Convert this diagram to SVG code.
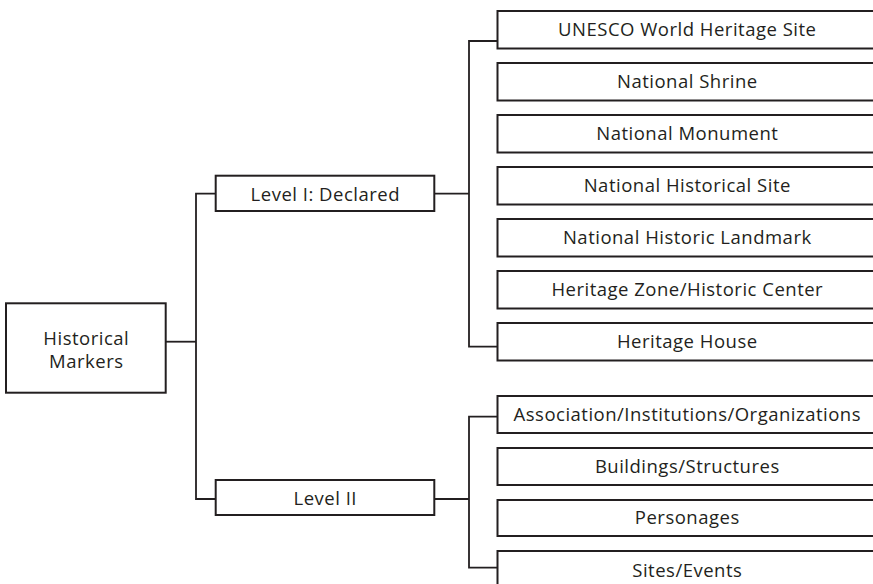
<svg xmlns="http://www.w3.org/2000/svg" width="873" height="584" viewBox="0 0 873 584">
<style>
.box{fill:#fff;stroke:#231f20;stroke-width:2}
.lbl{font-family:"Open Sans","Noto Sans",sans-serif;font-size:18.5px;letter-spacing:0.5px;fill:#231f20;text-anchor:middle}
.con{fill:none;stroke:#231f20;stroke-width:1.8}
</style>
<rect width="873" height="584" fill="#fff"/>
<g id="connectors">
<path class="con" d="M166 341.7 H196"/>
<path class="con" d="M215.7 193.7 H196 V499 H215.7"/>
<path class="con" d="M434.3 193.7 H469"/>
<path class="con" d="M497.5 41 H469 V346.7 H497.5"/>
<path class="con" d="M434.3 499 H469"/>
<path class="con" d="M497.5 416.7 H469 V567.7 H497.5"/>
</g>
<g id="root">
<rect class="box" x="6" y="303.3" width="159.7" height="89.4"/>
<text class="lbl" x="86.3" y="344.5">Historical</text>
<text class="lbl" x="86.3" y="368">Markers</text>
</g>
<g id="level1">
<rect class="box" x="215.7" y="175.7" width="218.6" height="35.3"/>
<text class="lbl" x="325.3" y="200.8">Level I: Declared</text>
</g>
<g id="level2">
<rect class="box" x="215.7" y="480" width="218.6" height="35"/>
<text class="lbl" x="325.3" y="504.8">Level II</text>
</g>
<g id="unesco"><rect class="box" x="497.5" y="11" width="380" height="37.5"/><text class="lbl" x="687.3" y="36.3">UNESCO World Heritage Site</text></g>
<g id="shrine"><rect class="box" x="497.5" y="63" width="380" height="37.5"/><text class="lbl" x="687.3" y="88.3">National Shrine</text></g>
<g id="monument"><rect class="box" x="497.5" y="115" width="380" height="37.5"/><text class="lbl" x="687.3" y="140.3">National Monument</text></g>
<g id="histsite"><rect class="box" x="497.5" y="167" width="380" height="37.5"/><text class="lbl" x="687.3" y="192.3">National Historical Site</text></g>
<g id="landmark"><rect class="box" x="497.5" y="219" width="380" height="37.5"/><text class="lbl" x="687.3" y="244.3">National Historic Landmark</text></g>
<g id="zone"><rect class="box" x="497.5" y="271" width="380" height="37.5"/><text class="lbl" x="687.3" y="296.3">Heritage Zone/Historic Center</text></g>
<g id="house"><rect class="box" x="497.5" y="323" width="380" height="37.5"/><text class="lbl" x="687.3" y="348.3">Heritage House</text></g>
<g id="assoc"><rect class="box" x="497.5" y="396" width="380" height="37"/><text class="lbl" x="687.3" y="420.8">Association/Institutions/Organizations</text></g>
<g id="buildings"><rect class="box" x="497.5" y="448" width="380" height="37"/><text class="lbl" x="687.3" y="472.8">Buildings/Structures</text></g>
<g id="personages"><rect class="box" x="497.5" y="500" width="380" height="36"/><text class="lbl" x="687.3" y="524.3">Personages</text></g>
<g id="sites"><rect class="box" x="497.5" y="551" width="380" height="40"/><text class="lbl" x="687.3" y="577.3">Sites/Events</text></g>
</svg>
